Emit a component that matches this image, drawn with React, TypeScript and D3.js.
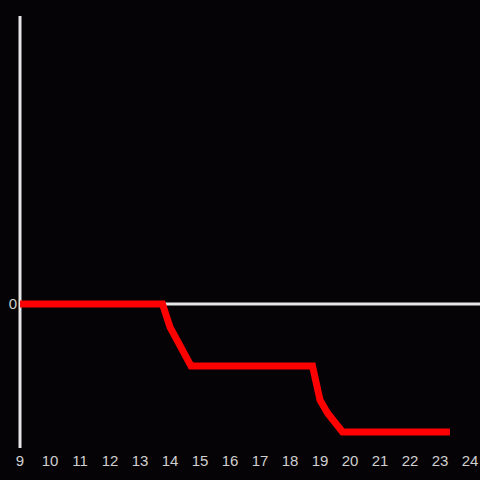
import React from "react";
import * as d3 from "d3";

const xValues = [9, 13.75, 14, 14.7, 18.75, 19, 19.25, 19.75, 23.33];
const yValues = [0, 0, -0.16, -0.43, -0.43, -0.667, -0.757, -0.889, -0.889];
const xTicks = [9, 10, 11, 12, 13, 14, 15, 16, 17, 18, 19, 20, 21, 22, 23, 24];
const yTicks = [0];

export default function App() {
  const W = 480, H = 480;
  const x = d3.scaleLinear().domain([9, 24]).range([20, 470]);
  const y = d3.scaleLinear().domain([-1, 2]).range([448, 16]);
  const pts: [number, number][] = xValues.map((v, i) => [v, yValues[i]]);
  const line = d3.line<[number, number]>().x(d => x(d[0])).y(d => y(d[1]));
  const axisColor = "#e6e6e6";
  const textColor = "#d0d0d0";
  return (
    <svg width={W} height={H} style={{ position: "absolute", left: 0, top: 0 }}>
      <rect x={0} y={0} width={W} height={H} fill="#050306" />
      <line x1={x(9)} x2={480} y1={y(0)} y2={y(0)} stroke={axisColor} strokeWidth={3} />
      <line x1={x(9)} x2={x(9)} y1={y(2)} y2={y(-1)} stroke={axisColor} strokeWidth={3} />
      {yTicks.map(t => (
        <text key={t} x={x(9) - 3} y={y(t)} dy="0.36em" textAnchor="end" fill={textColor}
          fontFamily="'Liberation Sans', Arial, sans-serif" fontSize={15}>{t}</text>
      ))}
      {xTicks.map(t => (
        <text key={t} x={x(t)} y={466} textAnchor="middle" fill={textColor}
          fontFamily="'Liberation Sans', Arial, sans-serif" fontSize={15}>{t}</text>
      ))}
      <path d={line(pts) || ""} fill="none" stroke="#ff0000" strokeWidth={7} strokeLinejoin="miter" />
    </svg>
  );
}
